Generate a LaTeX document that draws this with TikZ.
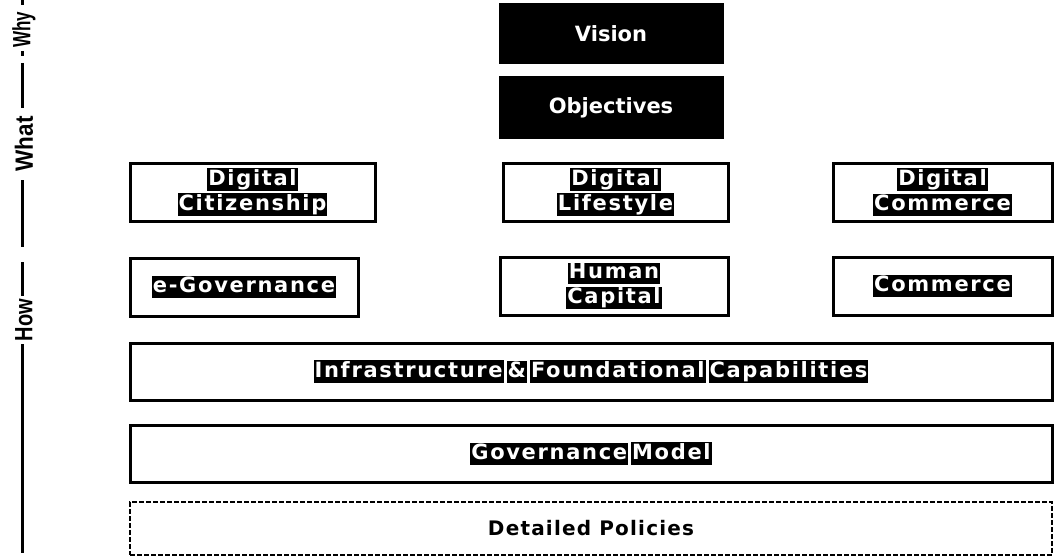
\documentclass[tikz,border=0pt]{standalone}
\usepackage{fontspec}
\setmainfont{DejaVu Sans}
\newfontfamily\axisfont{Liberation Sans}
\newfontfamily\blobfont[LetterSpace=8]{DejaVu Sans}
\newfontfamily\detfont[LetterSpace=6]{DejaVu Sans}
\newcommand\wb[1]{{\fboxsep=1pt\colorbox{black}{\rule[-4.5pt]{0pt}{19.5pt}\textcolor{white}{#1}}}}
\newcommand\wg{\hspace{3pt}}
\begin{document}
\begin{tikzpicture}[x=1pt,y=-1pt,
  layer/.style={draw=black, line width=3pt, fill=white, inner sep=0pt, align=center,
    font=\blobfont\bfseries\fontsize{21}{25}\selectfont},
  dark/.style={draw=black, line width=3pt, fill=black, text=white, inner sep=0pt,
    font=\bfseries\fontsize{21}{24}\selectfont},
  dashedlayer/.style={draw=black, line width=1.5pt, dash pattern=on 5pt off 2pt, fill=white,
    inner sep=0pt, font=\detfont\bfseries\fontsize{20}{24}\selectfont},
  axislabel/.style={rotate=90, inner sep=0pt, font=\axisfont\bfseries\fontsize{25}{28}\selectfont},
  axisline/.style={line width=3pt}]
\useasboundingbox[fill=white] (0,0) rectangle (1054,559);

% axis
\node[axislabel] (why) at (24,30) {\scalebox{0.68}[1]{Why}};
\node[axislabel] (what) at (24,144) {\scalebox{0.9}[1]{What}};
\node[axislabel] (how) at (24,320) {\scalebox{0.8}[1]{How}};
\coordinate (d1a) at (22,0);  \coordinate (d1b) at (22,5);
\coordinate (d2a) at (22,51); \coordinate (d2b) at (22,56);
\coordinate (l1a) at (22,63); \coordinate (l1b) at (22,108);
\coordinate (l2a) at (22,180); \coordinate (l2b) at (22,247);
\coordinate (l3a) at (22,262); \coordinate (l3b) at (22,296);
\coordinate (l4a) at (22,344); \coordinate (l4b) at (22,553);
\draw[axisline] (d1a) -- (d1b);
\draw[axisline] (d2a) -- (d2b);
\draw[axisline] (l1a) -- (l1b);
\draw[axisline] (l2a) -- (l2b);
\draw[axisline] (l3a) -- (l3b);
\draw[axisline] (l4a) -- (l4b);

% top
\node[dark, minimum width=222pt, minimum height=58pt] (vision) at (611,34) {Vision};
\node[dark, minimum width=222pt, minimum height=59pt] (objectives) at (611,107.5) {Objectives};

% what row
\node[layer, minimum width=245pt, minimum height=58pt] (dcit) at (252.5,192) {\wb{Digital}\\\wb{Citizenship}};
\node[layer, minimum width=225pt, minimum height=58pt] (dlife) at (615.5,192) {\wb{Digital}\\\wb{Lifestyle}};
\node[layer, minimum width=219pt, minimum height=58pt] (dcom) at (942.5,192) {\wb{Digital}\\\wb{Commerce}};

% how row
\node[layer, minimum width=228pt, minimum height=58pt] (egov) at (244,287) {\wb{e-Governance}};
\node[layer, minimum width=228pt, minimum height=58pt] (hcap) at (614,286) {\wb{Human}\\\wb{Capital}};
\node[layer, minimum width=219pt, minimum height=58pt] (com) at (942.5,286) {\wb{Commerce}};

% wide layers
\node[layer, minimum width=922pt, minimum height=57pt] (infra) at (591,371.5)
  {\wb{Infrastructure}\wg\wb{\&}\wg\wb{Foundational}\wg\wb{Capabilities}};
\node[layer, minimum width=922pt, minimum height=57pt] (gov) at (591,453.5)
  {\wb{Governance}\wg\wb{Model}};
\node[dashedlayer, minimum width=922pt, minimum height=53pt] (det) at (591,528.5)
  {Detailed Policies};
\end{tikzpicture}
\end{document}
